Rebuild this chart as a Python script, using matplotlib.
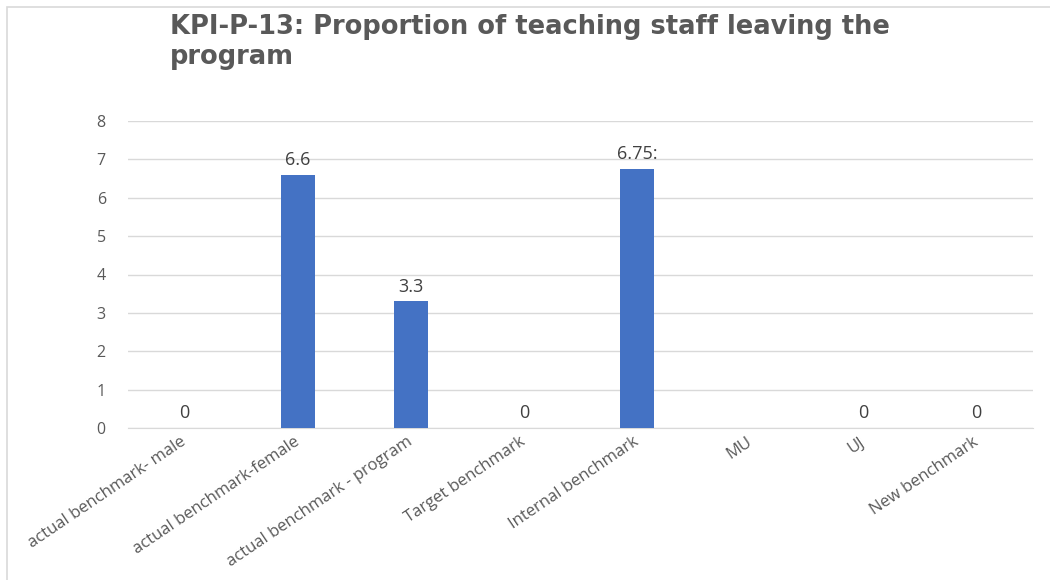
import matplotlib
matplotlib.use("Agg")
import matplotlib.pyplot as plt
from matplotlib.patches import Rectangle

categories = ["actual benchmark- male", "actual benchmark-female", "actual benchmark - program",
              "Target benchmark", "Internal benchmark", "MU", "UJ", "New benchmark"]
values = [0, 6.6, 3.3, 0, 6.75, 0, 0, 0]
value_labels = ["0", "6.6", "3.3", "0", "6.75:", "", "0", "0"]
yticks = [0, 1, 2, 3, 4, 5, 6, 7, 8]
title = "KPI-P-13: Proportion of teaching staff leaving the\nprogram"

W, H = 1050, 580
fig = plt.figure(figsize=(W / 100, H / 100), dpi=100)
fig.patch.set_facecolor("white")

# outer chart border
fig.patches.append(Rectangle((7 / W, -0.01), 1.02 - 7 / W, 1 - 7 / H + 0.01,
                             transform=fig.transFigure, fill=False,
                             edgecolor="#d9d9d9", lw=1.2))

ax = fig.add_axes([128 / W, 1 - 428 / H, (1033 - 128) / W, (428 - 121) / H])
x = list(range(len(categories)))
ax.bar(x, values, width=0.3, color="#4472C4", zorder=3)
ax.set_xlim(-0.5, len(categories) - 0.5)
ax.set_ylim(0, 8)
ax.set_yticks(yticks)
ax.set_yticklabels([str(t) for t in yticks], fontsize=11.5, color="#595959", family="Open Sans")
ax.grid(axis="y", color="#d9d9d9", lw=1, zorder=0)
for s in ["top", "right", "left"]:
    ax.spines[s].set_visible(False)
ax.spines["bottom"].set_color("#d9d9d9")
ax.tick_params(axis="both", length=0)
ax.tick_params(axis="y", pad=16)
ax.set_xticks(x)
ax.set_xticklabels(categories, rotation=34, ha="right", va="center", rotation_mode="anchor",
                   fontsize=12, color="#595959", family="Open Sans")
ax.tick_params(axis="x", pad=9)

for xi, v, lab in zip(x, values, value_labels):
    if lab:
        ax.annotate(lab, (xi, v), xytext=(0, 4), textcoords="offset points",
                    ha="center", va="bottom", fontsize=13, color="#404040",
                    family="Open Sans")

fig.text(170 / W, 1 - 14 / H, title, ha="left", va="top", fontsize=18.5,
         fontweight="bold", color="#595959", family="DejaVu Sans", linespacing=1.2)

fig.savefig("out.png", dpi=100, facecolor="white")
